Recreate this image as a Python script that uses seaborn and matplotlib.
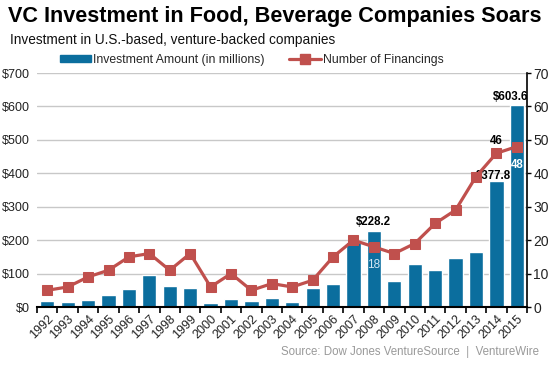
"""VC investment in food & beverage companies, 1992-2015."""
import numpy as np
import matplotlib
matplotlib.use("Agg")
import matplotlib.pyplot as plt
from matplotlib.lines import Line2D
from matplotlib.patches import Patch
import seaborn as sns

years = ["1992", "1993", "1994", "1995", "1996", "1997", "1998", "1999",
         "2000", "2001", "2002", "2003", "2004", "2005", "2006", "2007",
         "2008", "2009", "2010", "2011", "2012", "2013", "2014", "2015"]
investment = [18, 15, 22, 36, 54, 95, 63, 56, 13, 25, 18, 27,
              15, 57, 68, 194, 228.2, 78, 129, 111, 148, 165, 377.8, 603.6]
financings = [5, 6, 9, 11, 15, 16, 11, 16, 6, 10, 5, 7,
              6, 8, 15, 20, 18, 16, 19, 25, 29, 39, 46, 48]

BLUE = "#0b6e9e"
RED = "#c0504d"

sns.set_theme(style="white")
plt.rcParams["font.family"] = ["Liberation Sans", "DejaVu Sans"]
LBL = dict(fontsize=8.3, fontweight="bold")

fig = plt.figure(figsize=(5.53, 3.69), dpi=100)
ax = fig.add_axes([0.067, 0.168, 0.886, 0.634])

sns.barplot(x=years, y=investment, color=BLUE, saturation=1, width=0.7, ax=ax, zorder=2)
ax.set_ylim(0, 700)
ax.set_xlim(-0.5, len(years) - 0.5)
ax.set_yticks(range(0, 701, 100))
ax.set_yticklabels([f"${v}" for v in range(0, 701, 100)], fontsize=9, color="#222222")
ax.yaxis.grid(True, color="#c8c8c8", linewidth=1, zorder=0)
ax.set_axisbelow(True)
ax.set_xlabel("")
ax.set_ylabel("")
ax.tick_params(axis="y", length=0, pad=5.5)
ax.set_xticks(range(len(years)))
ax.set_xticklabels(years, rotation=45, ha="right", rotation_mode="anchor", fontsize=9, color="#222222")
ax.tick_params(axis="x", length=0, pad=4)
ax.set_xticks(np.arange(-0.5, len(years), 1), minor=True)
ax.tick_params(axis="x", which="minor", length=4, width=1.2, color="black", bottom=True)
for s in ["left", "top", "right"]:
    ax.spines[s].set_visible(False)
ax.spines["bottom"].set_color("black")
ax.spines["bottom"].set_linewidth(1.5)

ax2 = ax.twinx()
sns.lineplot(x=np.arange(len(years)), y=financings, color=RED, linewidth=2.3,
             marker="s", markersize=7, markeredgecolor=RED, ax=ax2, zorder=3)
ax2.set_ylim(0, 70)
ax2.set_yticks(range(0, 71, 10))
ax2.tick_params(axis="y", labelsize=10, labelcolor="#222222", color="black",
                length=3, width=1, direction="out", right=True, pad=1.5)
for s in ["left", "top", "bottom"]:
    ax2.spines[s].set_visible(False)
ax2.spines["right"].set_color("black")
ax2.spines["right"].set_linewidth(1.2)
ax2.set_ylabel("")

# value labels
i08, i14, i15 = years.index("2008"), years.index("2014"), years.index("2015")
ax.text(i08, investment[i08] + 8, f"${investment[i08]}", ha="center", va="bottom", color="black", **LBL)
ax.text(i15 - 0.3, investment[i15] + 8, f"${investment[i15]}", ha="center", va="bottom", color="black", **LBL)
ax.text(i14 + 0.7, 392, f"${investment[i14]}", ha="right", va="center", color="black", zorder=5, **LBL)
ax2.text(i14, financings[i14] + 1.8, f"{financings[i14]}", ha="center", va="bottom", color="black", **LBL)
ax2.text(i15, financings[i15] - 5.4, f"{financings[i15]}", ha="center", va="center", color="white", zorder=5, **LBL)
ax2.text(i08, financings[i08] - 5.4, f"{financings[i08]}", ha="center", va="center",
         fontsize=8.5, color="#cfe6f3", zorder=5)

fig.text(0.014, 0.955, "VC Investment in Food, Beverage Companies Soars",
         fontsize=15.6, fontweight="bold", ha="left", va="center", color="black")
fig.text(0.018, 0.892, "Investment in U.S.-based, venture-backed companies",
         fontsize=9.8, ha="left", va="center", color="#111111")

handles = [Patch(facecolor=BLUE, edgecolor=BLUE),
           Line2D([], [], color=RED, linewidth=2.3, marker="s", markersize=7)]
fig.legend(handles, ["Investment Amount (in millions)", "Number of Financings"],
           loc="center", bbox_to_anchor=(0.455, 0.838), ncol=2, frameon=False,
           fontsize=8.8, handlelength=2.6, handleheight=0.55, handletextpad=0.15,
           columnspacing=2.0)

fig.text(0.975, 0.045, "Source: Dow Jones VentureSource  |  VentureWire",
         fontsize=8.3, ha="right", va="center", color="#999999")

fig.savefig("out.png", dpi=100)
